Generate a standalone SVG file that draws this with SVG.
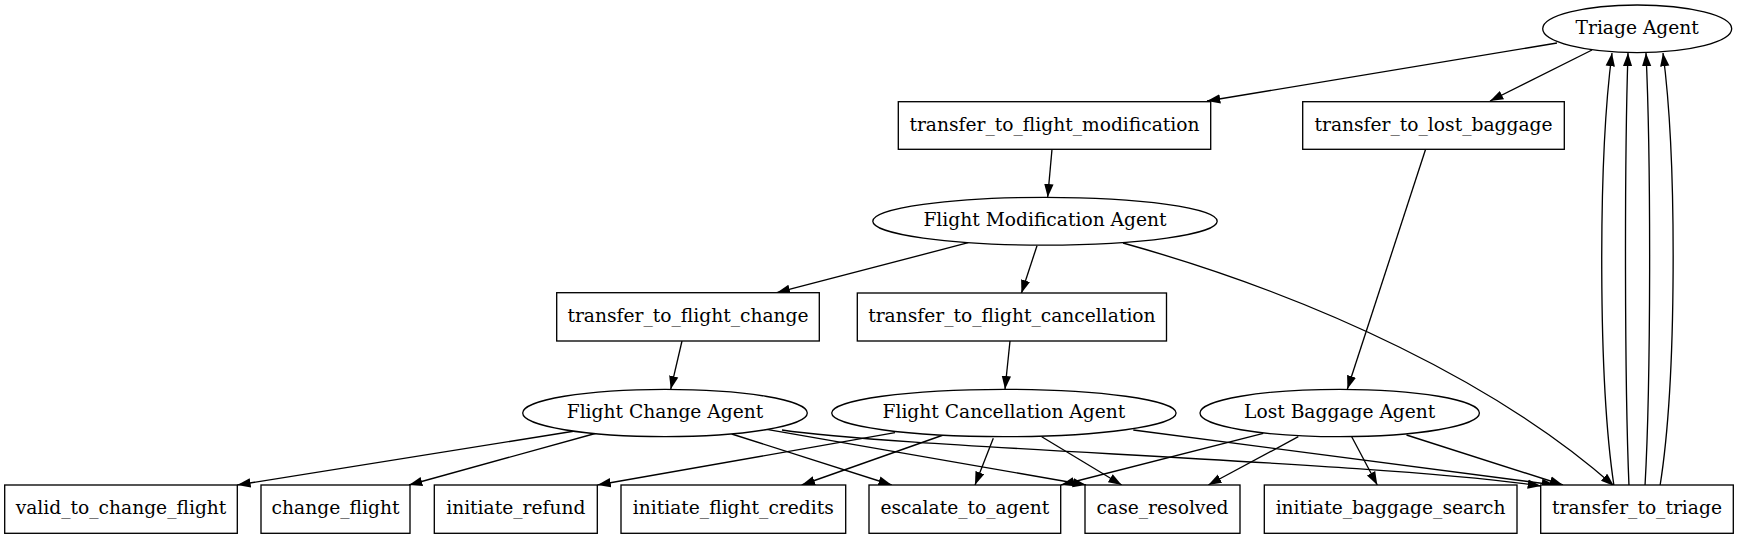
<svg xmlns="http://www.w3.org/2000/svg" width="1739" height="539" viewBox="0 0 1739 539">
<defs>
<marker id="arr" markerUnits="userSpaceOnUse" markerWidth="15" markerHeight="11" refX="13.3" refY="5" orient="auto">
<path d="M0,0.33 L13.3,5 L0,9.67 z" fill="#000"/>
</marker>
<style>
.n rect,.n ellipse{fill:#fff;stroke:#000;stroke-width:1.33}
.n text{font-family:"DejaVu Serif","Liberation Serif",serif;font-size:18.67px;text-anchor:middle;fill:#000}
#edges path{fill:none;stroke:#000;stroke-width:1.33;marker-end:url(#arr)}
</style>
</defs>
<rect width="1739" height="539" fill="#fff"/>
<g id="edges">
<path d="M1557,43 L1207,101"/>
<path d="M1592,50 L1490,101"/>
<path d="M1052,149.3 L1047.7,197.3"/>
<path d="M1425.6,149.3 L1347.4,389"/>
<path d="M968.3,242.7 L776.7,292.7"/>
<path d="M1037,245.7 L1021.4,293.3"/>
<path d="M1123,243 C1320,298 1500,385 1614,486"/>
<path d="M682,341 L670.7,389.3"/>
<path d="M1010,341 L1005,389.3"/>
<path d="M575,431 L237.3,485"/>
<path d="M597,433 L409,485"/>
<path d="M731.7,434 L891.7,485"/>
<path d="M766.7,429.3 L1086,485"/>
<path d="M782,430 C900,448 1380,462 1541,486"/>
<path d="M895,432.7 L597.5,485"/>
<path d="M943.3,435 L801.7,485"/>
<path d="M993.3,438.3 L975,485"/>
<path d="M1041.7,436.7 L1121.7,485"/>
<path d="M1133.3,430 L1555,485"/>
<path d="M1263.3,433.3 L1061,485"/>
<path d="M1298.3,436.7 L1208.3,485"/>
<path d="M1351.7,436.7 L1377.3,485"/>
<path d="M1406.5,435 L1563,485"/>
<path d="M1614,486 C1598,380 1598,160 1612,53"/>
<path d="M1629,486 C1624.5,380 1624.5,160 1628,53"/>
<path d="M1645,486 C1651,380 1651,160 1646,53"/>
<path d="M1660,486 C1677,380 1677,160 1663,53"/>
</g>
<g id="triage_agent" class="n"><ellipse cx="1637.2" cy="28.8" rx="94.5" ry="23.8"/><text x="1637.2" y="33.8">Triage Agent</text></g>
<g id="transfer_to_flight_modification" class="n"><rect x="898.3" y="101.7" width="312.4" height="47.6"/><text x="1054.5" y="130.5">transfer_to_flight_modification</text></g>
<g id="transfer_to_lost_baggage" class="n"><rect x="1302.7" y="101.7" width="261.6" height="47.6"/><text x="1433.5" y="130.5">transfer_to_lost_baggage</text></g>
<g id="flight_modification_agent" class="n"><ellipse cx="1045" cy="221.2" rx="172.2" ry="23.9"/><text x="1045" y="226.2">Flight Modification Agent</text></g>
<g id="transfer_to_flight_change" class="n"><rect x="556.7" y="292.7" width="262.6" height="48.3"/><text x="688" y="321.8">transfer_to_flight_change</text></g>
<g id="transfer_to_flight_cancellation" class="n"><rect x="857.3" y="293" width="309.2" height="48"/><text x="1011.9" y="322">transfer_to_flight_cancellation</text></g>
<g id="flight_change_agent" class="n"><ellipse cx="665" cy="413" rx="142.3" ry="23.7"/><text x="665" y="418">Flight Change Agent</text></g>
<g id="flight_cancellation_agent" class="n"><ellipse cx="1003.9" cy="413" rx="172.2" ry="23.7"/><text x="1003.9" y="418">Flight Cancellation Agent</text></g>
<g id="lost_baggage_agent" class="n"><ellipse cx="1339.7" cy="413" rx="139.7" ry="23.7"/><text x="1339.7" y="418">Lost Baggage Agent</text></g>
<g id="valid_to_change_flight" class="n"><rect x="4.7" y="485" width="232.6" height="48.3"/><text x="121" y="514.2">valid_to_change_flight</text></g>
<g id="change_flight" class="n"><rect x="261" y="485" width="149" height="48.3"/><text x="335.5" y="514.2">change_flight</text></g>
<g id="initiate_refund" class="n"><rect x="434.3" y="485" width="163" height="48.3"/><text x="515.8" y="514.2">initiate_refund</text></g>
<g id="initiate_flight_credits" class="n"><rect x="621" y="485" width="224.7" height="48.3"/><text x="733.3" y="514.2">initiate_flight_credits</text></g>
<g id="escalate_to_agent" class="n"><rect x="869" y="485" width="191.7" height="48.3"/><text x="964.8" y="514.2">escalate_to_agent</text></g>
<g id="case_resolved" class="n"><rect x="1085" y="485" width="155" height="48.3"/><text x="1162.5" y="514.2">case_resolved</text></g>
<g id="initiate_baggage_search" class="n"><rect x="1264.3" y="485" width="252.7" height="48.3"/><text x="1390.6" y="514.2">initiate_baggage_search</text></g>
<g id="transfer_to_triage" class="n"><rect x="1540.7" y="485" width="192.6" height="48.3"/><text x="1637" y="514.2">transfer_to_triage</text></g>
</svg>
